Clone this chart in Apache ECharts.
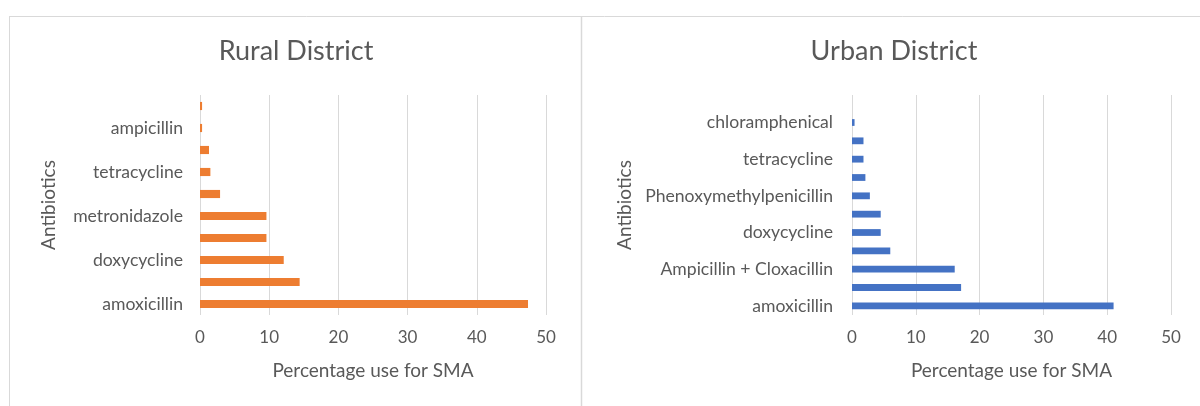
<!DOCTYPE html>
<html><head><meta charset="utf-8">
<script src="https://cdn.jsdelivr.net/npm/echarts@6/dist/echarts.min.js"></script>
<style>html,body{margin:0;padding:0;background:#fff}#c{width:1200px;height:406px}</style>
</head><body><div id="c"></div>
<script>
// Rural district (bottom to top)
const ruralCategories = ['amoxicillin', '', 'doxycycline', '', 'metronidazole', '', 'tetracycline', '', 'ampicillin', ''];
const ruralValues = [47.4, 14.4, 12.1, 9.6, 9.6, 2.9, 1.5, 1.3, 0.3, 0.3];
// Urban district (bottom to top)
const urbanCategories = ['amoxicillin', '', 'Ampicillin + Cloxacillin', '', 'doxycycline', '', 'Phenoxymethylpenicillin', '', 'tetracycline', '', 'chloramphenical', ''];
const urbanValues = [41.0, 17.1, 16.1, 6.0, 4.5, 4.5, 2.8, 2.1, 1.8, 1.8, 0.4, 0];
const xTicks = [0, 10, 20, 30, 40, 50];

const FONT = 'Lato';
const GRAY = '#595959';
const chart = echarts.init(document.getElementById('c'), null, {renderer: 'canvas'});

function valueAxis(idx) {
  return {
    type: 'value', gridIndex: idx, min: xTicks[0], max: xTicks[xTicks.length - 1], interval: 10,
    name: 'Percentage use for SMA', nameLocation: 'middle', nameGap: 46,
    nameTextStyle: {fontFamily: FONT, fontSize: 19, color: GRAY},
    axisLine: {show: false}, axisTick: {show: false},
    axisLabel: {fontFamily: FONT, fontSize: 17, color: GRAY, margin: 14},
    splitLine: {show: true, lineStyle: {color: '#d9d9d9', width: 1}}
  };
}
function catAxis(idx, cats, gap, margin) {
  return {
    type: 'category', gridIndex: idx, data: cats,
    name: 'Antibiotics', nameLocation: 'middle', nameGap: gap,
    nameTextStyle: {fontFamily: FONT, fontSize: 19, color: GRAY},
    axisLine: {show: false}, axisTick: {show: false},
    axisLabel: {interval: 0, fontFamily: FONT, fontSize: 17.6, color: GRAY, margin: margin},
    splitLine: {show: false}
  };
}

chart.setOption({
  animation: false,
  backgroundColor: '#ffffff',
  title: [
    {text: 'Rural District', left: 291, top: 33, textAlign: 'center',
     textStyle: {fontFamily: FONT, fontSize: 27, fontWeight: 'normal', color: GRAY}},
    {text: 'Urban District', left: 889, top: 33, textAlign: 'center',
     textStyle: {fontFamily: FONT, fontSize: 27, fontWeight: 'normal', color: GRAY}}
  ],
  grid: [
    {left: 200, top: 95, width: 346, height: 220, containLabel: false},
    {left: 852, top: 95, width: 319, height: 220, containLabel: false}
  ],
  xAxis: [valueAxis(0), valueAxis(1)],
  yAxis: [catAxis(0, ruralCategories, 142, 17), catAxis(1, urbanCategories, 218, 19)],
  series: [
    {type: 'bar', xAxisIndex: 0, yAxisIndex: 0, data: ruralValues, barWidth: '37%',
     itemStyle: {color: '#ED7D31'}},
    {type: 'bar', xAxisIndex: 1, yAxisIndex: 1, data: urbanValues, barWidth: '37%',
     itemStyle: {color: '#4472C4'}}
  ],
  graphic: [
    {type: 'line', shape: {x1: 9, y1: 16.5, x2: 1200, y2: 16.5}, style: {stroke: '#d9d9d9', lineWidth: 1}, silent: true},
    {type: 'line', shape: {x1: 9.5, y1: 16, x2: 9.5, y2: 406}, style: {stroke: '#d9d9d9', lineWidth: 1}, silent: true},
    {type: 'line', shape: {x1: 581.5, y1: 16, x2: 581.5, y2: 406}, style: {stroke: '#d9d9d9', lineWidth: 1.5}, silent: true}
  ]
});
</script></body></html>
